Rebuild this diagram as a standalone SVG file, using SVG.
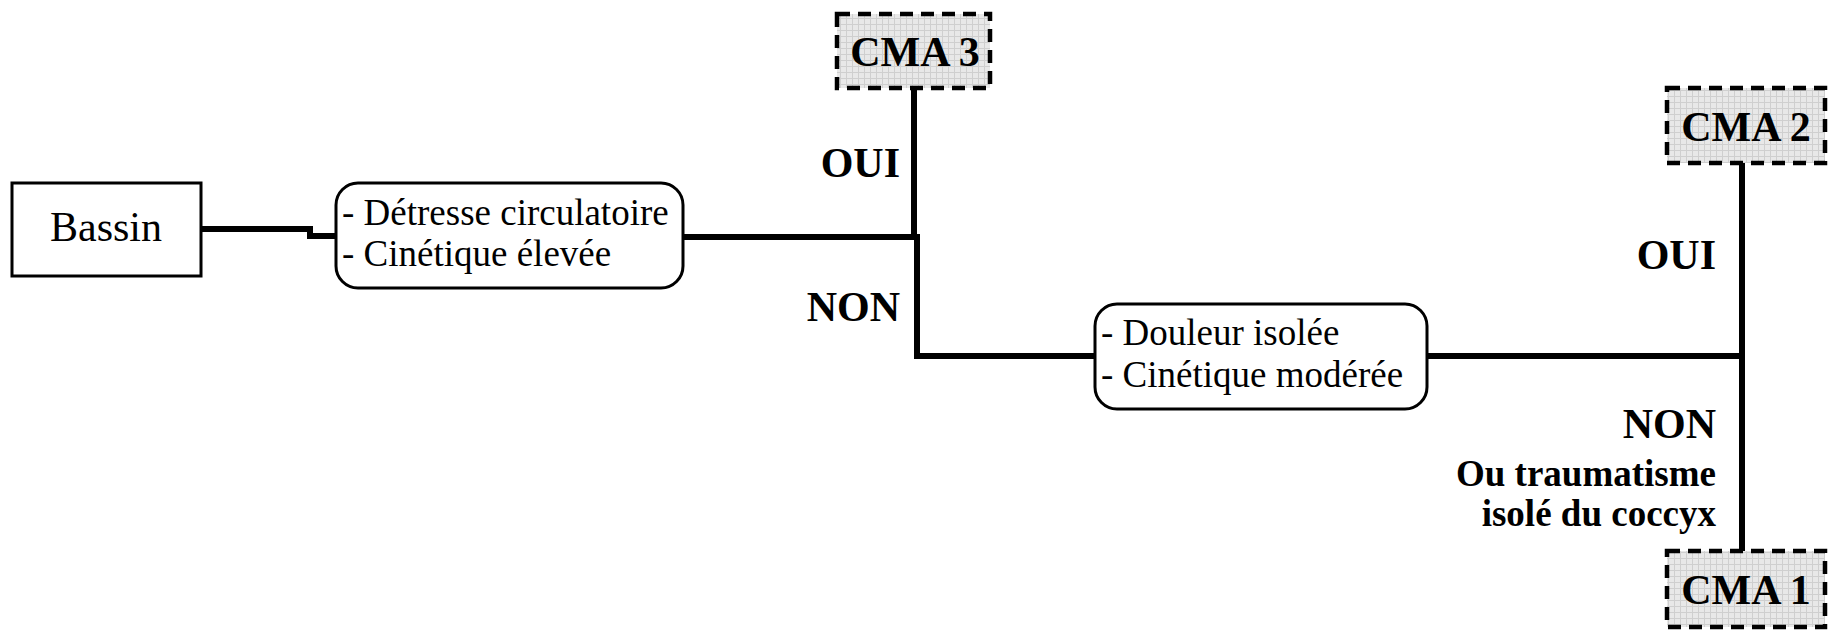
<svg xmlns="http://www.w3.org/2000/svg" width="1831" height="633" viewBox="0 0 1831 633">
<defs>
<pattern id="grid" width="6" height="6" patternUnits="userSpaceOnUse">
<rect width="6" height="6" fill="#e8e8e8"/>
<path d="M0 0.5H6M0.5 0V6" stroke="#cfcfcf" stroke-width="1"/>
</pattern>
<style>
.box{fill:#fff;stroke:#000;stroke-width:3}
.cma{fill:url(#grid);stroke:#000;stroke-width:4.5;stroke-dasharray:13 8}
.t{font-family:"Liberation Serif","Times New Roman",serif;font-size:37px;fill:#000}
.big{font-size:42px}
.b{font-family:"Liberation Serif","Times New Roman",serif;font-weight:bold;font-size:42px;fill:#000}
.bs{font-family:"Liberation Serif","Times New Roman",serif;font-weight:bold;font-size:37px;fill:#000}
.c{fill:none;stroke:#000;stroke-width:6}
</style>
</defs>
<g id="connectors">
<polyline class="c" points="201,229 310,229 310,236 336,236"/>
<polyline class="c" points="683,237 917,237"/>
<polyline class="c" points="914,88 914,240"/>
<polyline class="c" points="917,234 917,356 1095,356"/>
<polyline class="c" points="1427,356 1742,356"/>
<polyline class="c" points="1742,163 1742,551"/>
</g>
<g id="bassin">
<rect class="box" x="12" y="183" width="189" height="93"/>
<text class="t big" x="106" y="241" text-anchor="middle">Bassin</text>
</g>
<g id="critere1">
<rect class="box" x="336" y="183" width="347" height="105" rx="22"/>
<text class="t" x="342" y="225">- Détresse circulatoire</text>
<text class="t" x="342" y="266">- Cinétique élevée</text>
</g>
<g id="cma3">
<rect class="cma" x="837" y="14" width="153" height="74"/>
<text class="b" x="915" y="66" text-anchor="middle">CMA 3</text>
</g>
<g id="label-oui1"><text class="b" x="900" y="177" text-anchor="end">OUI</text></g>
<g id="label-non1"><text class="b" x="900" y="321" text-anchor="end">NON</text></g>
<g id="critere2">
<rect class="box" x="1095" y="304" width="332" height="105" rx="22"/>
<text class="t" x="1101" y="345">- Douleur isolée</text>
<text class="t" x="1101" y="387">- Cinétique modérée</text>
</g>
<g id="cma2">
<rect class="cma" x="1667" y="88" width="158" height="75"/>
<text class="b" x="1746" y="141" text-anchor="middle">CMA 2</text>
</g>
<g id="label-oui2"><text class="b" x="1716" y="269" text-anchor="end">OUI</text></g>
<g id="label-non2">
<text class="b" x="1716" y="438" text-anchor="end">NON</text>
<text class="bs" x="1716" y="486" text-anchor="end">Ou traumatisme</text>
<text class="bs" x="1716" y="526" text-anchor="end">isolé du coccyx</text>
</g>
<g id="cma1">
<rect class="cma" x="1667" y="551" width="158" height="76"/>
<text class="b" x="1746" y="604" text-anchor="middle">CMA 1</text>
</g>
</svg>
